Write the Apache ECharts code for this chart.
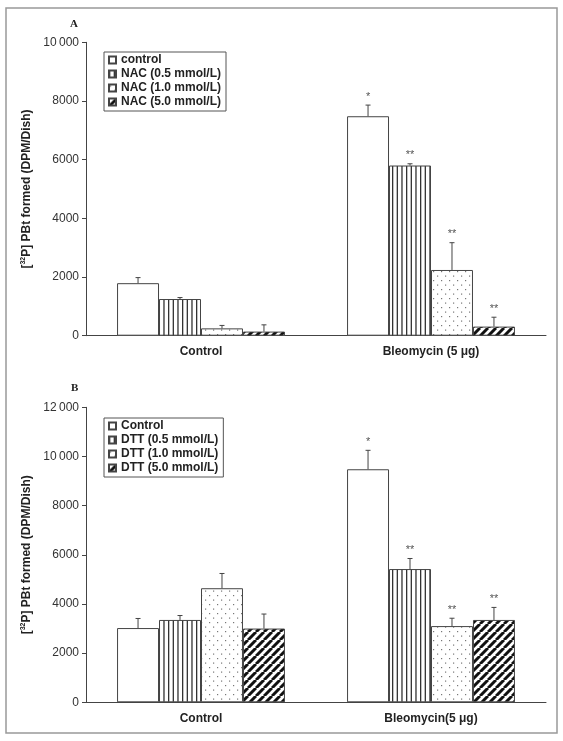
<!DOCTYPE html>
<html><head><meta charset="utf-8">
<script src="https://cdn.jsdelivr.net/npm/echarts@6/dist/echarts.min.js"></script>
<style>html,body{margin:0;padding:0;background:#fff}#c{width:563px;height:741px}</style>
</head><body><div id="c"></div>
<script>
// ---------- Panel A data ----------
const categoriesA = ['Control', 'Bleomycin (5 μg)'];
const seriesNamesA = ['control', 'NAC (0.5 mmol/L)', 'NAC (1.0 mmol/L)', 'NAC (5.0 mmol/L)'];
const control_A = [1790, 7480];
const nac05_A = [1250, 5800];
const nac10_A = [250, 2240];
const nac50_A = [140, 310];
const errControl_A = [190, 380];
const errNac05_A = [50, 60];
const errNac10_A = [100, 930];
const errNac50_A = [230, 320];
const stars_A = [['', '*'], ['', '**'], ['', '**'], ['', '**']];
const yTickLabelsA = ['0', '2000', '4000', '6000', '8000', '10\u2009000'];
const yStepA = 2000;

// ---------- Panel B data ----------
const categoriesB = ['Control', 'Bleomycin(5 μg)'];
const seriesNamesB = ['Control', 'DTT (0.5 mmol/L)', 'DTT (1.0 mmol/L)', 'DTT (5.0 mmol/L)'];
const control_B = [3020, 9480];
const dtt05_B = [3350, 5420];
const dtt10_B = [4640, 3100];
const dtt50_B = [3000, 3350];
const errControl_B = [390, 770];
const errDtt05_B = [180, 430];
const errDtt10_B = [600, 320];
const errDtt50_B = [590, 510];
const stars_B = [['', '*'], ['', '**'], ['', '**'], ['', '**']];
const yTickLabelsB = ['0', '2000', '4000', '6000', '8000', '10\u2009000', '12\u2009000'];
const yStepB = 2000;

const yAxisName = '[{sup|32}P] PBt formed (DPM/Dish)';

// ---------- patterns ----------
function mk(w, h, draw) {
  const c = document.createElement('canvas');
  c.width = w; c.height = h;
  const g = c.getContext('2d');
  g.fillStyle = '#fff'; g.fillRect(0, 0, w, h);
  draw(g, w, h);
  return { image: c, repeat: 'repeat' };
}
function vStripes() {
  return mk(14, 14, (g) => {
    g.fillStyle = '#333';
    [0, 4.67, 9.33].forEach(x => g.fillRect(x, 0, 1.3, 14));
  });
}
function dots() {
  return mk(8, 9, (g) => {
    g.fillStyle = '#777';
    g.fillRect(1, 1, 1.2, 1.2);
    g.fillRect(5, 5.5, 1.2, 1.2);
  });
}
function diag() {
  return mk(8, 8, (g, s) => {
    g.strokeStyle = '#111';
    g.lineWidth = 3;
    g.beginPath();
    [-s, 0, s].forEach(o => { g.moveTo(o, s); g.lineTo(o + s, 0); });
    g.stroke();
  });
}
const fills = ['#ffffff', vStripes(), dots(), diag()];

const GAP = 0.27;
function makeErr(meansList, errList, starList) {
  const data = [], stars = [];
  meansList.forEach((arr, s) => arr.forEach((v, c) => {
    data.push([c, s, v, errList[s][c]]);
    stars.push(starList[s][c]);
  }));
  return { data, stars };
}
function errRenderer(nSeries, stars) {
  return function (params, api) {
    const cat = api.value(0), s = api.value(1), mean = api.value(2), err = api.value(3);
    const catW = api.size([1, 0])[0];
    const bw = catW * (1 - GAP) / nSeries;
    const p0 = api.coord([cat, mean]);
    const x = p0[0] + (s - (nSeries - 1) / 2) * bw;
    const y0 = p0[1];
    const yTop = api.coord([cat, mean + err])[1];
    const st = { stroke: '#444', lineWidth: 1 };
    const children = [
      { type: 'line', shape: { x1: x, y1: y0, x2: x, y2: yTop }, style: st },
      { type: 'line', shape: { x1: x - 2.5, y1: yTop, x2: x + 2.5, y2: yTop }, style: st }
    ];
    const t = stars[params.dataIndex];
    if (t) children.push({ type: 'text', style: { text: t, x: x, y: yTop - 3, align: 'center', verticalAlign: 'bottom', fill: '#555', font: '11px "Liberation Sans"' } });
    return { type: 'group', children };
  };
}

const errA = makeErr([control_A, nac05_A, nac10_A, nac50_A], [errControl_A, errNac05_A, errNac10_A, errNac50_A], stars_A);
const errB = makeErr([control_B, dtt05_B, dtt10_B, dtt50_B], [errControl_B, errDtt05_B, errDtt10_B, errDtt50_B], stars_B);

function bars(names, valsList, idx) {
  return names.map((n, s) => ({
    name: n, type: 'bar', xAxisIndex: idx, yAxisIndex: idx,
    data: valsList[s], barGap: '0%', barCategoryGap: (GAP * 100) + '%',
    itemStyle: { color: fills[s], borderColor: '#444', borderWidth: 1 },
    emphasis: { disabled: true }, animation: false
  }));
}

const yAxisCommon = (idx, max, labels, step) => ({
  gridIndex: idx, type: 'value', min: 0, max: max, interval: step,
  axisLine: { show: true, lineStyle: { color: '#444' } },
  axisTick: { show: true, length: 4, lineStyle: { color: '#444' } },
  splitLine: { show: false },
  axisLabel: { margin: 7, fontSize: 12, color: '#333', formatter: v => labels[Math.round(v / step)] },
  name: yAxisName, nameLocation: 'middle', nameRotate: 90, nameGap: 46,
  nameTextStyle: { fontSize: 12, fontWeight: 'bold', color: '#222',
    rich: { sup: { fontSize: 7, fontWeight: 'bold', color: '#222', verticalAlign: 'top', padding: [0, 0, 6, 0] } } }
});
const xAxisCommon = (idx, cats) => ({
  gridIndex: idx, type: 'category', data: cats,
  axisLine: { lineStyle: { color: '#444' } },
  axisTick: { show: false },
  axisLabel: { margin: 10, fontSize: 12, fontWeight: 'bold', color: '#222' }
});
const legendCommon = {
  orient: 'vertical', left: 104, borderColor: '#555', borderWidth: 1, icon: 'rect',
  padding: [2, 5, 3, 4], itemWidth: 7, itemHeight: 7, itemGap: 2,
  textStyle: { fontSize: 12, fontWeight: 'bold', color: '#222' }, selectedMode: false
};

const chart = echarts.init(document.getElementById('c'), null, { renderer: 'canvas' });
chart.setOption({
  animation: false,
  textStyle: { fontFamily: '"Liberation Sans", Arial, sans-serif' },
  title: [
    { text: 'A', left: 70, top: 19, padding: 0, textStyle: { fontFamily: '"Liberation Serif", serif', fontWeight: 'bold', fontSize: 11, color: '#222' } },
    { text: 'B', left: 71, top: 383, padding: 0, textStyle: { fontFamily: '"Liberation Serif", serif', fontWeight: 'bold', fontSize: 11, color: '#222' } }
  ],
  legend: [
    Object.assign({}, legendCommon, { data: seriesNamesA, top: 52 }),
    Object.assign({}, legendCommon, { data: seriesNamesB, top: 418 })
  ],
  grid: [
    { left: 86, right: 17, top: 42.3, height: 293.4 },
    { left: 86, right: 17, top: 407.3, height: 295 }
  ],
  xAxis: [xAxisCommon(0, categoriesA), xAxisCommon(1, categoriesB)],
  yAxis: [yAxisCommon(0, 10000, yTickLabelsA, yStepA), yAxisCommon(1, 12000, yTickLabelsB, yStepB)],
  graphic: [
    { type: 'rect', shape: { x: 6, y: 8, width: 551, height: 725 }, style: { fill: 'none', stroke: '#999', lineWidth: 1.5 }, silent: true }
  ],
  series: [
    ...bars(seriesNamesA, [control_A, nac05_A, nac10_A, nac50_A], 0),
    ...bars(seriesNamesB, [control_B, dtt05_B, dtt10_B, dtt50_B], 1),
    { type: 'custom', xAxisIndex: 0, yAxisIndex: 0, data: errA.data, encode: { x: 0, y: 2 }, renderItem: errRenderer(4, errA.stars), z: 5, silent: true },
    { type: 'custom', xAxisIndex: 1, yAxisIndex: 1, data: errB.data, encode: { x: 0, y: 2 }, renderItem: errRenderer(4, errB.stars), z: 5, silent: true }
  ]
});
</script>
</body></html>
